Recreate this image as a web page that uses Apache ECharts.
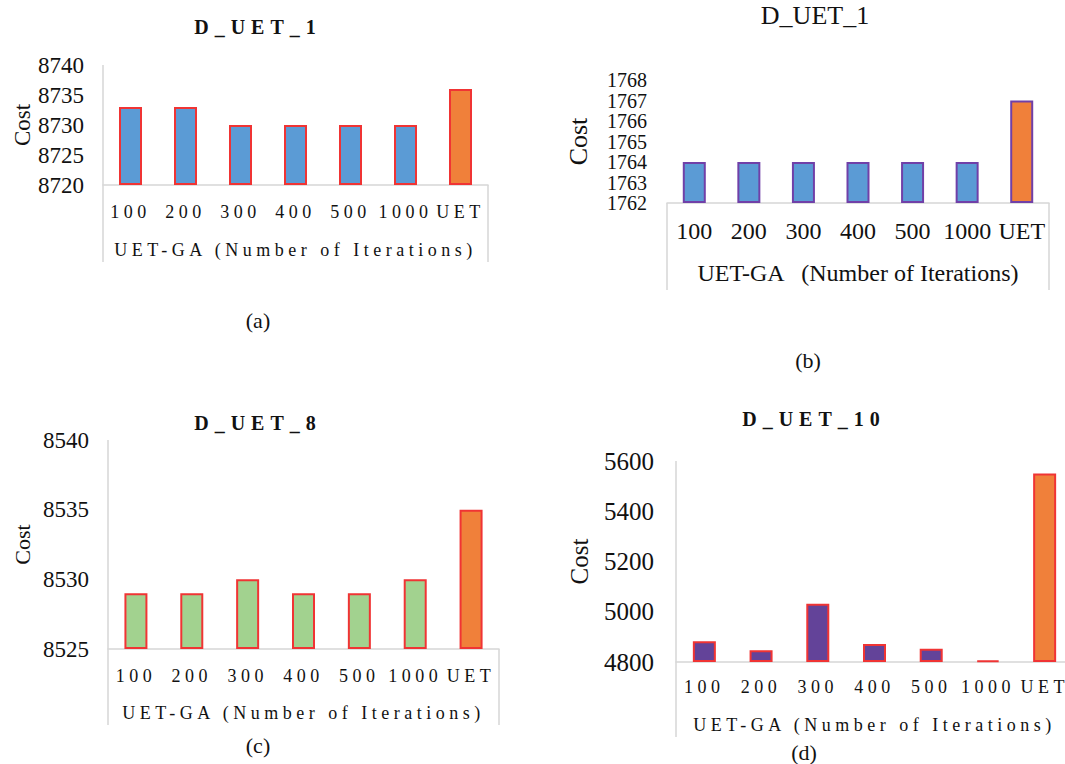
<!DOCTYPE html>
<html><head><meta charset="utf-8">
<script src="https://cdn.jsdelivr.net/npm/echarts@6/dist/echarts.min.js"></script>
<style>
html,body{margin:0;padding:0;background:#fff;}
#c{width:1065px;height:764px;}
text[style*="spacedT"]{letter-spacing:6px;}
text[style*="spacedL"]{letter-spacing:4.5px;}
</style></head><body><div id="c"></div>
<script>
const categories = ['100','200','300','400','500','1000','UET'];
const valuesA = [8733, 8733, 8730, 8730, 8730, 8730, 8736];
const valuesB = [1764, 1764, 1764, 1764, 1764, 1764, 1767];
const valuesC = [8529, 8529, 8530, 8529, 8529, 8530, 8535];
const valuesD = [4883, 4847, 5032, 4872, 4853, 4806, 5550];
const yTicksA = [8720, 8725, 8730, 8735, 8740];
const yTicksB = [1762, 1763, 1764, 1765, 1766, 1767, 1768];
const yTicksC = [8525, 8530, 8535, 8540];
const yTicksD = [4800, 5000, 5200, 5400, 5600];
const titles = ['D_UET_1', 'D_UET_1', 'D_UET_8', 'D_UET_10'];
const captions = ['(a)', '(b)', '(c)', '(d)'];
const axisNames = ['UET-GA (Number of Iterations)', 'UET-GA   (Number of Iterations)', 'UET-GA (Number of Iterations)', 'UET-GA (Number of Iterations)'];

const SERIF = "'Liberation Serif', 'Times New Roman', serif";
const ORANGE = '#F0803A';
const GRAY = '#D6D6D6';
const INK = '#111';

const panels = [
  { values: valuesA, ticks: yTicksA, fill: '#5B9BD5', border: '#F03434',
    grid: {left: 103, top: 65, width: 385, height: 120}, boxBottom: 262, leftFull: true, rightLine: true,
    titleFont: 'bold 20px ' + SERIF + ', spacedT', titleX: 258, titleY: 27, capX: 258, capY: 320,
    spaced: true, yFont: 23, yMargin: 19, yLine: 24, costFont: 23, costGap: 68, xFont: 18, xMargin: 18, nameGap: 56 },
  { values: valuesB, ticks: yTicksB, fill: '#5B9BD5', border: '#7040A8', split: true,
    grid: {left: 667, top: 80, width: 382, height: 123}, boxBottom: 290, leftFull: false, rightLine: true,
    titleFont: '26px ' + SERIF, titleX: 815, titleY: 15, capX: 808, capY: 360,
    spaced: false, yFont: 20, yMargin: 20, yLine: 20, costFont: 26, costGap: 76, xFont: 24, xMargin: 16, nameGap: 58 },
  { values: valuesC, ticks: yTicksC, fill: '#A2D28F', border: '#F03434',
    grid: {left: 108, top: 440, width: 391, height: 209}, boxBottom: 725, leftFull: true, rightLine: true,
    titleFont: 'bold 20px ' + SERIF + ', spacedT', titleX: 258, titleY: 423, capX: 258, capY: 745,
    spaced: true, yFont: 23, yMargin: 19, yLine: 28, costFont: 22, costGap: 75, xFont: 18, xMargin: 18, nameGap: 55 },
  { values: valuesD, ticks: yTicksD, fill: '#634399', border: '#F03434',
    grid: {left: 676, top: 461, width: 397, height: 201}, boxBottom: 737, leftFull: true, rightLine: false,
    titleFont: 'bold 20px ' + SERIF + ', spacedT', titleX: 814, titleY: 419, capX: 804, capY: 752,
    spaced: true, yFont: 25, yMargin: 22, yLine: 30, costFont: 25, costGap: 84, xFont: 18, xMargin: 16, nameGap: 54 }
];

const grids = [], xAxes = [], yAxes = [], series = [], graphics = [];
panels.forEach((p, i) => {
  const fam = p.spaced ? SERIF + ', spacedL' : SERIF;
  grids.push(Object.assign({containLabel: false, outerBoundsMode: 'none'}, p.grid));
  xAxes.push({
    type: 'category', gridIndex: i, data: categories,
    axisLine: {show: true, lineStyle: {color: GRAY, width: 1.5}},
    axisTick: {show: false}, splitLine: {show: false},
    axisLabel: {interval: 0, color: INK, fontFamily: fam, fontSize: p.xFont, margin: p.xMargin},
    name: axisNames[i], nameLocation: 'middle', nameGap: p.nameGap,
    nameTextStyle: {color: INK, fontFamily: fam, fontSize: p.xFont}
  });
  const t = p.ticks;
  const mkY = (vals, withName) => ({
    type: 'value', gridIndex: i, position: 'left', offset: 0,
    min: t[0], max: t[t.length - 1], interval: t[1] - t[0], startValue: t[0],
    axisLine: {show: false}, axisTick: {show: false}, splitLine: {show: false},
    axisLabel: Object.assign({color: INK, fontFamily: SERIF, fontSize: p.yFont, margin: p.yMargin, lineHeight: p.yLine,
      showMinLabel: true, showMaxLabel: true, hideOverlap: false, formatter: v => String(v)},
      vals ? {customValues: vals} : {}),
    name: withName ? 'Cost' : '', nameLocation: 'middle', nameRotate: 90, nameGap: p.costGap,
    nameTextStyle: {color: INK, fontFamily: SERIF, fontSize: p.costFont}
  });
  const yIndex = yAxes.length;
  if (p.split) {
    // labels alternate between two coincident axes so that none is dropped by overlap handling
    yAxes.push(mkY(t.filter((v, k) => k % 2 === 0), true));
    yAxes.push(mkY(t.filter((v, k) => k % 2 === 1), false));
  } else {
    yAxes.push(mkY(null, true));
  }
  series.push({
    type: 'bar', xAxisIndex: i, yAxisIndex: yIndex, barWidth: 23, silent: true,
    itemStyle: {borderColor: p.border, borderWidth: 2},
    data: p.values.map((v, j) => ({value: v, itemStyle: {color: categories[j] === 'UET' ? ORANGE : p.fill}}))
  });
  const g = p.grid, bottom = g.top + g.height, right = g.left + g.width;
  graphics.push({type: 'line', silent: true, shape: {x1: g.left, y1: p.leftFull ? g.top : bottom, x2: g.left, y2: p.boxBottom},
    style: {stroke: GRAY, lineWidth: 1.5}});
  if (p.rightLine) graphics.push({type: 'line', silent: true, shape: {x1: right, y1: bottom, x2: right, y2: p.boxBottom},
    style: {stroke: GRAY, lineWidth: 1.5}});
  graphics.push({type: 'text', silent: true, x: p.titleX, y: p.titleY,
    style: {text: titles[i], font: p.titleFont, fill: INK, textAlign: 'center', align: 'center', textVerticalAlign: 'middle', verticalAlign: 'middle'}});
  graphics.push({type: 'text', silent: true, x: p.capX, y: p.capY,
    style: {text: captions[i], font: '22px ' + SERIF, fill: INK, textAlign: 'center', align: 'center', textVerticalAlign: 'middle', verticalAlign: 'middle'}});
});

const chart = echarts.init(document.getElementById('c'), null, {renderer: 'svg'});
chart.setOption({
  animation: false,
  backgroundColor: '#fff',
  grid: grids, xAxis: xAxes, yAxis: yAxes, series: series,
  graphic: {elements: graphics}
});
</script></body></html>
